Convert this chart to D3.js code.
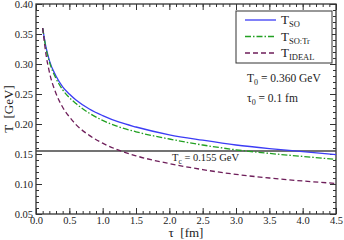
<!DOCTYPE html>
<html>
<head>
<meta charset="utf-8">
<style>
  body { margin: 0; background: #fff; }
</style>
</head>
<body>
<script src="https://d3js.org/d3.v7.min.js"></script>
<script>
  // proper time (fm)
  const tau = [0.1, 0.15, 0.2, 0.3, 0.4, 0.5, 0.6, 0.8, 1.0, 1.25, 1.5, 2.0, 2.5, 3.0, 3.5, 4.0, 4.5]
  const tSO = [0.360, 0.328, 0.306, 0.280, 0.262, 0.250, 0.240, 0.225, 0.214, 0.203, 0.195, 0.182, 0.173, 0.165, 0.159, 0.154, 0.149]
  const tSOTr = [0.360, 0.326, 0.304, 0.276, 0.257, 0.244, 0.234, 0.218, 0.206, 0.195, 0.187, 0.175, 0.165, 0.157, 0.151, 0.146, 0.141]
  const tIdeal = [0.360, 0.316, 0.287, 0.251, 0.228, 0.212, 0.199, 0.181, 0.168, 0.156, 0.147, 0.134, 0.124, 0.116, 0.110, 0.105, 0.101]
  const Tc = 0.155
  const xTicks = [0, 0.5, 1, 1.5, 2, 2.5, 3, 3.5, 4, 4.5]
  const yTicks = [0.05, 0.10, 0.15, 0.20, 0.25, 0.30, 0.35, 0.40]

  const series = [
    { name: 'SO', values: tSO, color: '#3c3cf5', dash: null },
    { name: 'SO:Tr', values: tSOTr, color: '#22a022', dash: '6,2,1.5,2' },
    { name: 'IDEAL', values: tIdeal, color: '#6e1e5a', dash: '5,3' }
  ]

  const serif = '"Liberation Serif", "Times New Roman", serif'
  const width = 344, height = 240
  const margin = { top: 4, right: 8, bottom: 26, left: 36 }
  const w = width - margin.left - margin.right
  const h = height - margin.top - margin.bottom

  const svg = d3.select('body').append('svg')
    .attr('width', width).attr('height', height)
  const g = svg.append('g').attr('transform', `translate(${margin.left},${margin.top})`)

  const x = d3.scaleLinear().domain([0, 4.5]).range([0, w])
  const y = d3.scaleLinear().domain([0.05, 0.40]).range([h, 0])

  // minor ticks
  const xMinor = d3.range(0, 4.51, 0.1)
  const yMinor = d3.range(0.05, 0.4001, 0.01)
  const minor = [
    [d3.axisBottom(x).tickValues(xMinor), `translate(0,${h})`],
    [d3.axisTop(x).tickValues(xMinor), null],
    [d3.axisLeft(y).tickValues(yMinor), null],
    [d3.axisRight(y).tickValues(yMinor), `translate(${w},0)`]
  ]
  minor.forEach(([ax, tr]) => {
    const a = g.append('g').call(ax.tickSize(-3).tickFormat(''))
    if (tr) a.attr('transform', tr)
  })

  // major ticks
  const xAxis = g.append('g').attr('transform', `translate(0,${h})`)
    .call(d3.axisBottom(x).tickValues(xTicks).tickSize(-6).tickPadding(4).tickFormat(d3.format('.1f')))
  g.append('g')
    .call(d3.axisLeft(y).tickValues(yTicks).tickSize(-6).tickPadding(3).tickFormat(d3.format('.2f')))
  g.append('g').call(d3.axisTop(x).tickValues(xTicks).tickSize(-6).tickFormat(''))
  g.append('g').attr('transform', `translate(${w},0)`)
    .call(d3.axisRight(y).tickValues(yTicks).tickSize(-6).tickFormat(''))
  g.selectAll('.domain').remove()
  g.selectAll('.tick line').attr('stroke', '#333')
  g.selectAll('.tick text').style('font-size', '10.5px')
  xAxis.selectAll('text').attr('dy', '0.6em')

  // frame
  g.append('rect').attr('width', w).attr('height', h)
    .attr('fill', 'none').attr('stroke', '#333').attr('stroke-width', 1.3)

  // Tc line
  g.append('line').attr('x1', 0).attr('x2', w).attr('y1', y(Tc)).attr('y2', y(Tc))
    .attr('stroke', '#444').attr('stroke-width', 1.3)
  const tcText = g.append('text').attr('x', x(2.04)).attr('y', y(Tc) + 10).style('font-size', '10.5px')
  tcText.append('tspan').text('T')
  tcText.append('tspan').attr('dy', 3).style('font-size', '7.5px').text('c')
  tcText.append('tspan').attr('dy', -3).text(' = 0.155 GeV')

  // curves
  const line = d3.line().x((d, i) => x(tau[i])).y(d => y(d)).curve(d3.curveMonotoneX)
  series.forEach(s => {
    g.append('path').datum(s.values).attr('d', line)
      .attr('fill', 'none').attr('stroke', s.color).attr('stroke-width', 1.3)
      .attr('stroke-dasharray', s.dash)
  })

  // legend
  const lg = svg.append('g').attr('transform', 'translate(236,11)')
  lg.append('rect').attr('width', 96).attr('height', 52)
    .attr('fill', '#fff').attr('stroke', '#333').attr('stroke-width', 1)
  series.forEach((s, i) => {
    const yy = 9 + i * 16.5
    lg.append('line').attr('x1', 9).attr('x2', 40).attr('y1', yy).attr('y2', yy)
      .attr('stroke', s.color).attr('stroke-width', 1.3).attr('stroke-dasharray', s.dash)
    const t = lg.append('text').attr('x', 45).attr('y', yy + 4).style('font-size', '13px')
    t.append('tspan').text('T')
    t.append('tspan').attr('dy', 3).style('font-size', '8.5px').text(s.name)
  })

  // annotations
  const a1 = svg.append('text').attr('x', 247).attr('y', 82).style('font-size', '11.5px')
  a1.append('tspan').text('T')
  a1.append('tspan').attr('dy', 3).style('font-size', '8px').text('0')
  a1.append('tspan').attr('dy', -3).text(' = 0.360 GeV')
  const a2 = svg.append('text').attr('x', 247).attr('y', 102).style('font-size', '11.5px')
  a2.append('tspan').text('τ')
  a2.append('tspan').attr('dy', 3).style('font-size', '8px').text('0')
  a2.append('tspan').attr('dy', -3).text(' = 0.1 fm')

  // axis titles
  svg.append('text').attr('x', margin.left + w / 2).attr('y', 237)
    .attr('text-anchor', 'middle').style('font-size', '13px').attr('xml:space', 'preserve').text('τ  [fm]')
  svg.append('text').attr('transform', `translate(13,${margin.top + h / 2}) rotate(-90)`)
    .attr('text-anchor', 'middle').style('font-size', '13px').attr('xml:space', 'preserve').text('T  [GeV]')

  svg.selectAll('text').style('font-family', serif).attr('fill', '#222')
</script>
</body>
</html>
